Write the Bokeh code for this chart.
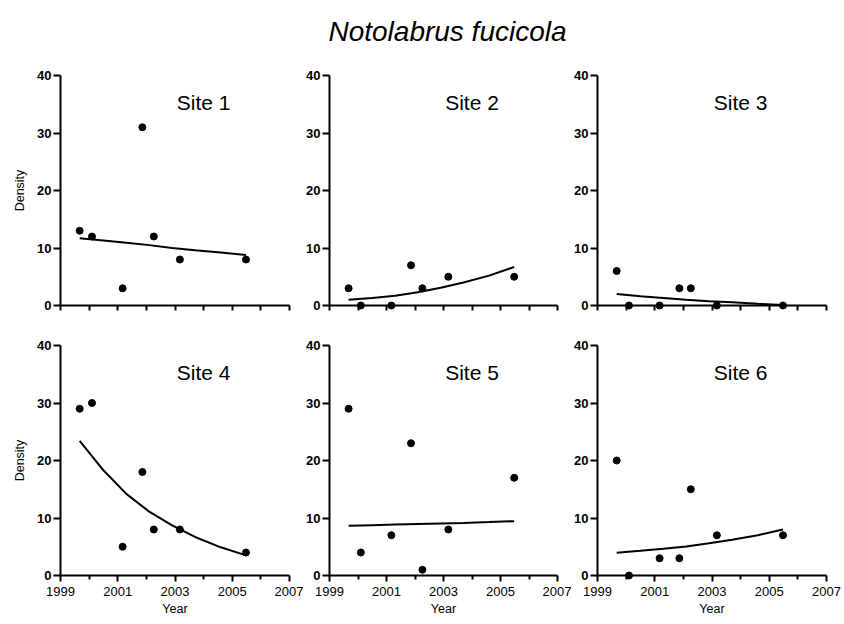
from bokeh.plotting import figure
from bokeh.layouts import column, row
from bokeh.models import Range1d, FixedTicker, Label
from bokeh.embed import file_html
from bokeh.resources import INLINE

# ---- data ----
title_text = "Notolabrus fucicola"
site_names = ["Site 1", "Site 2", "Site 3", "Site 4", "Site 5", "Site 6"]
years = [1999.67, 2000.10, 2001.17, 2001.86, 2002.26, 2003.17, 2005.48]
site1 = [13, 12, 3, 31, 12, 8, 8]
site2 = [3, 0, 0, 7, 3, 5, 5]
site3 = [6, 0, 0, 3, 3, 0, 0]
site4 = [29, 30, 5, 18, 8, 8, 4]
site5 = [29, 4, 7, 23, 1, 8, 17]
site6 = [20, 0, 3, 3, 15, 7, 7]

# fitted trend curves
fit_years = [1999.67, 2000.5, 2001.3, 2002.1, 2002.9, 2003.7, 2004.6, 2005.48]
fit1 = [11.7, 11.3, 10.9, 10.5, 10.0, 9.6, 9.2, 8.8]
fit2 = [1.0, 1.3, 1.7, 2.3, 3.1, 4.0, 5.2, 6.7]
fit3 = [2.0, 1.6, 1.3, 1.0, 0.75, 0.55, 0.3, 0.1]
fit4 = [23.4, 18.3, 14.2, 11.1, 8.7, 6.7, 4.9, 3.5]
fit5 = [8.65, 8.75, 8.85, 8.95, 9.05, 9.15, 9.3, 9.45]
fit6 = [3.95, 4.3, 4.65, 5.05, 5.6, 6.2, 7.0, 8.0]

x_major = [1999, 2001, 2003, 2005, 2007]
x_minor = [2000, 2002, 2004, 2006]
x_all = [1999, 2000, 2001, 2002, 2003, 2004, 2005, 2006, 2007]
y_major = [0, 10, 20, 30, 40]
x_label = "Year"
y_label = "Density"

series = [site1, site2, site3, site4, site5, site6]
fits = [fit1, fit2, fit3, fit4, fit5, fit6]

FONT = "Liberation Sans"
LEFT = [60, 25, 26]
RIGHT = [14, 14, 18]
FRAME_W = 229
FRAME_H = 230
TITLE_H = 55


def make_panel(ci, ri, name, ys, fit):
    top = (75 - TITLE_H) if ri == 0 else 20
    bottom = 20 if ri == 0 else 49
    p = figure(width=LEFT[ci] + FRAME_W + RIGHT[ci], height=top + FRAME_H + bottom,
               x_range=Range1d(1999, 2007), y_range=Range1d(0, 40),
               output_backend="svg", toolbar_location=None,
               min_border_left=LEFT[ci], min_border_right=RIGHT[ci],
               min_border_top=top, min_border_bottom=bottom)
    p.outline_line_color = None
    p.grid.visible = False
    p.background_fill_color = "white"
    p.border_fill_color = "white"

    xa = p.xaxis[0]
    xa.axis_line_width = 2
    xa.axis_line_color = "black"
    xa.major_tick_line_width = 2
    xa.minor_tick_line_width = 2
    xa.major_tick_in = 0
    xa.major_tick_out = 6
    xa.minor_tick_in = 0
    xa.major_label_text_font = FONT
    xa.major_label_text_color = "black"
    if ri == 0:
        # top row: tick marks only, no labels
        xa.ticker = FixedTicker(ticks=[], minor_ticks=x_all)
        xa.minor_tick_out = 5
        xa.major_label_standoff = 0
    else:
        xa.ticker = FixedTicker(ticks=x_major, minor_ticks=x_minor)
        xa.minor_tick_out = 4
        xa.major_label_text_font_size = "13px"
        xa.major_label_standoff = 5
        xa.axis_label = x_label
        xa.axis_label_text_font = FONT
        xa.axis_label_text_font_size = "12.5px"
        xa.axis_label_text_font_style = "normal"
        xa.axis_label_text_color = "black"
        xa.axis_label_standoff = 3

    ya = p.yaxis[0]
    ya.ticker = FixedTicker(ticks=y_major, minor_ticks=[])
    ya.axis_line_width = 2
    ya.axis_line_color = "black"
    ya.major_tick_line_width = 2
    ya.major_tick_in = 0
    ya.major_tick_out = 7
    ya.minor_tick_out = 0
    ya.minor_tick_in = 0
    ya.major_label_standoff = 2
    ya.major_label_text_font = FONT
    ya.major_label_text_font_size = "13px"
    ya.major_label_text_font_style = "bold"
    ya.major_label_text_color = "black"
    if ci == 0:
        ya.axis_label = y_label
        ya.axis_label_text_font = FONT
        ya.axis_label_text_font_size = "12.5px"
        ya.axis_label_text_font_style = "normal"
        ya.axis_label_text_color = "black"
        ya.axis_label_standoff = 7

    p.line(fit_years, fit, line_width=2, line_color="black")
    p.scatter(years, ys, size=7, fill_color="black", line_color="black", level="overlay")

    p.add_layout(Label(x=2004.0, y=35.3, text=name, text_align="center",
                       text_baseline="middle", text_font=FONT,
                       text_font_size="21px", text_color="black"))
    return p


panels = []
for i in range(6):
    panels.append(make_panel(i % 3, i // 3, site_names[i], series[i], fits[i]))

title_fig = figure(width=844, height=TITLE_H, x_range=Range1d(0, 844), y_range=Range1d(0, TITLE_H),
                   output_backend="svg", toolbar_location=None,
                   x_axis_location=None, y_axis_location=None, min_border=0)
title_fig.outline_line_color = None
title_fig.grid.visible = False
title_fig.add_layout(Label(x=447, y=TITLE_H - 31, text=title_text, text_align="center",
                           text_baseline="alphabetic", text_font=FONT,
                           text_font_style="italic", text_font_size="28px",
                           text_color="black"))

layout = column(title_fig, row(*panels[:3]), row(*panels[3:]))

open("out.html", "w").write(file_html(layout, INLINE))
